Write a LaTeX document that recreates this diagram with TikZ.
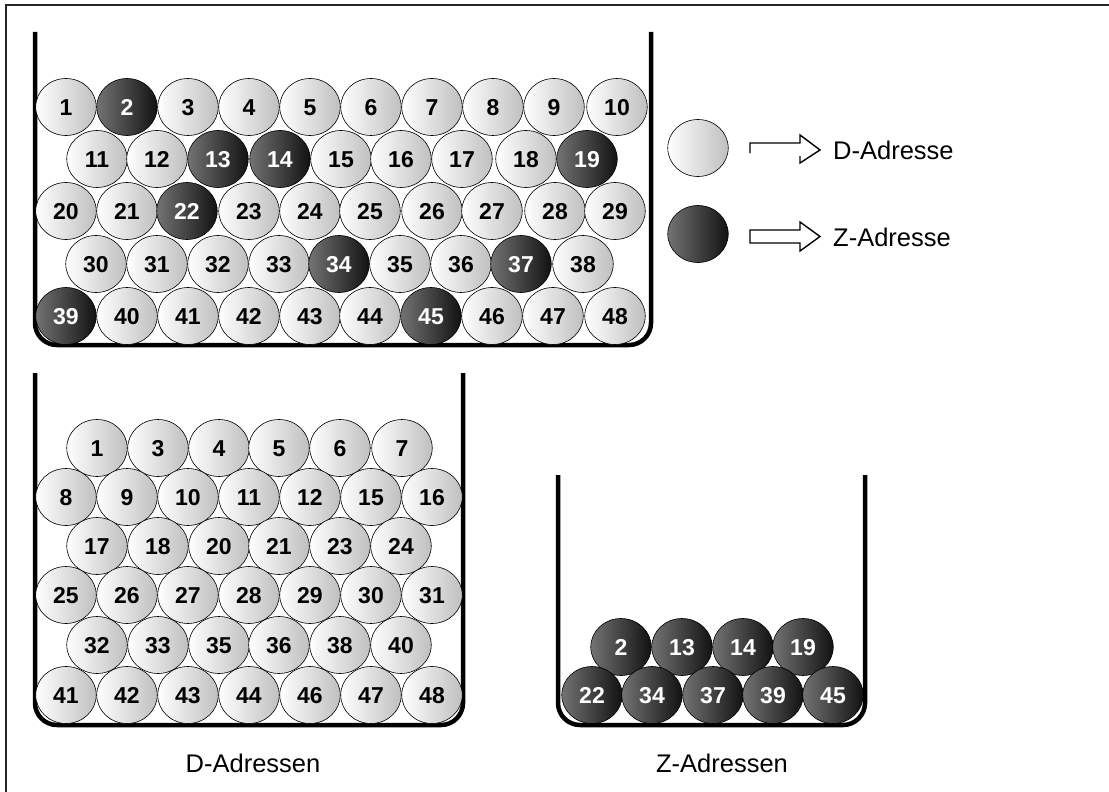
\documentclass[tikz,border=0pt]{standalone}
\usepackage{fontspec}
\setmainfont{Liberation Sans}
\usetikzlibrary{shapes.geometric,calc}
\tikzset{
  ballbase/.style={ellipse, draw=black, line width=0.6pt, minimum width=60.5pt, minimum height=57pt, inner sep=0pt,
    font=\bfseries\fontsize{23}{23}\selectfont, text height=16.5pt, text depth=0pt},
  lball/.style={ballbase, left color=white, right color=black!25, text=black},
  dball/.style={ballbase, left color=black!55, right color=black!93, text=white},
  wall/.style={line width=4.5pt, rounded corners=22pt, line cap=butt},
  frameline/.style={line width=2.2pt, draw=black!85},
  caption/.style={font=\fontsize{25.5}{25.5}\selectfont, inner sep=0pt},
  legarrow/.style={line width=1.4pt, line join=miter}
}
\begin{document}
\begin{tikzpicture}[x=1pt,y=-1pt]
\useasboundingbox (0,0) rectangle (1109,792);
% frame (top and left only)
\draw[frameline] (6,792) -- (6,5) -- (1109,5);

% containers
\draw[wall] (35,32) -- (35,345) -- (651,345) -- (651,32);
\draw[wall] (35,373) -- (35,725) -- (463,725) -- (463,373);
\draw[wall] (558,475) -- (558,725) -- (865,725) -- (865,475);

% top container balls
\foreach \n/\x/\y/\s in {
  1/66/107/lball, 2/127/107/dball, 3/188/107/lball, 4/249/107/lball, 5/310/107/lball,
  6/371/107/lball, 7/432/107/lball, 8/493/107/lball, 9/554/107/lball, 10/617/107/lball,
  11/97/159/lball, 12/157/159/lball, 13/218/159/dball, 14/280/159/dball, 15/341/159/lball,
  16/401/159/lball, 17/462/159/lball, 18/526/159/lball, 19/587/159/dball,
  20/66/211/lball, 21/127/211/lball, 22/187/211/dball, 23/249/211/lball, 24/310/211/lball,
  25/370/211/lball, 26/432/211/lball, 27/492/211/lball, 28/555/211/lball, 29/615/211/lball,
  30/96/264/lball, 31/157/264/lball, 32/218/264/lball, 33/279/264/lball, 34/339/264/dball,
  35/400/264/lball, 36/461/264/lball, 37/521/264/dball, 38/583/264/lball,
  39/66/316/dball, 40/127/316/lball, 41/188/316/lball, 42/249/316/lball, 43/310/316/lball,
  44/370/316/lball, 45/431/316/dball, 46/492/316/lball, 47/553/316/lball, 48/615/316/lball}
  \node[\s] (t\n) at (\x,\y) {\n};

% D-Adressen container balls
\foreach \n/\x/\y in {
  1/97/448, 3/158/448, 4/219/448, 5/279/448, 6/340/448, 7/402/448,
  8/66/497, 9/127/497, 10/188/497, 11/249/497, 12/310/497, 15/371/497, 16/432/497,
  17/97/546, 18/158/546, 20/219/546, 21/279/546, 23/340/546, 24/401/546,
  25/66/595, 26/127/595, 27/188/595, 28/249/595, 29/310/595, 30/371/595, 31/432/595,
  32/97/645, 33/158/645, 35/219/645, 36/279/645, 38/340/645, 40/401/645,
  41/66/695, 42/127/695, 43/188/695, 44/249/695, 46/310/695, 47/371/695, 48/432/695}
  \node[lball] (d\n) at (\x,\y) {\n};

% Z-Adressen container balls
\foreach \n/\x/\y in {
  2/621/647, 13/682/647, 14/743/647, 19/803/647,
  22/592/695, 34/652/695, 37/713/695, 39/773/695, 45/833/695}
  \node[dball] (z\n) at (\x,\y) {\n};

% captions
\node[caption] (capD) at (253,763) {D-Adressen};
\node[caption] (capZ) at (722,763) {Z-Adressen};

% legend
\node[lball] (legD) at (698,148) {};
\node[dball] (legZ) at (698,234) {};
\node[caption, anchor=west] (txtD) at (833,150) {D-Adresse};
\node[caption, anchor=west] (txtZ) at (833,237) {Z-Adresse};
\coordinate (aD) at (750,143);
\coordinate (aZ) at (750,230);
\draw[legarrow] ($(aD)+(0,10)$) -- (aD) -- ++(50,0) -- ++(0,-8) -- ++(20,15) -- ++(-20,13) -- ++(0,-7);
\draw[legarrow] (aZ) -- ++(50,0) -- ++(0,-8) -- ++(20,14.5) -- ++(-20,14.5) -- ++(0,-8) -- ++(-50,0) -- cycle;
\end{tikzpicture}
\end{document}
